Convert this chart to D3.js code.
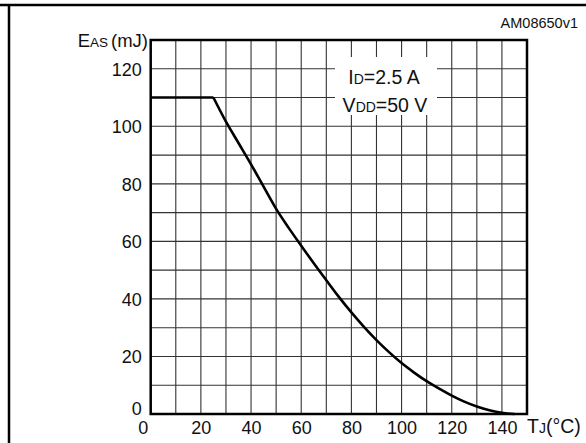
<!DOCTYPE html>
<html><head><meta charset="utf-8">
<script src="https://cdn.jsdelivr.net/npm/d3@7/dist/d3.min.js"></script>
<style>body{margin:0;background:#fff}svg{display:block;font-family:"Liberation Sans",Arial,Helvetica,sans-serif}</style>
</head><body>
<svg id="c" width="586" height="443"></svg>
<script>
// Data
const tempC = [0, 25, 30, 35, 40, 45, 50, 55, 60, 65, 70, 75, 80, 85, 90, 95, 100, 105, 110, 115, 120, 125, 130, 135, 140, 145];
const eAS   = [110, 110, 101.6, 94.2, 86.8, 79, 71.3, 64.7, 58.5, 52.4, 46.5, 40.7, 35.3, 30.3, 25.7, 21.5, 17.7, 14.4, 11.4, 8.8, 6.4, 4.3, 2.6, 1.3, 0.4, 0];
const xTickLabels = [0, 20, 40, 60, 80, 100, 120, 140];
const yTickLabels = [0, 20, 40, 60, 80, 100, 120];
const xGrid = d3.range(0, 151, 10);
const yGrid = d3.range(0, 131, 10);

const svg = d3.select("#c");
const L = 150.7, R = 527, T = 40, B = 414;
const x = d3.scaleLinear().domain([0, 150]).range([L, R]);
const y = d3.scaleLinear().domain([0, 130]).range([B, T]);

// outer frame
svg.append("line").attr("x1", 0).attr("x2", 586).attr("y1", 5).attr("y2", 5).attr("stroke", "#000").attr("stroke-width", 2.5);
svg.append("line").attr("x1", 9).attr("x2", 9).attr("y1", 5).attr("y2", 443).attr("stroke", "#000").attr("stroke-width", 2.5);

// grid
const g = svg.append("g");
g.selectAll("line.v").data(xGrid).join("line").attr("class", "v")
  .attr("x1", d => x(d)).attr("x2", d => x(d)).attr("y1", T).attr("y2", B)
  .attr("stroke", "#333").attr("stroke-width", 1.1);
g.selectAll("line.h").data(yGrid).join("line").attr("class", "h")
  .attr("x1", L).attr("x2", R).attr("y1", d => y(d)).attr("y2", d => y(d))
  .attr("stroke", "#333").attr("stroke-width", 1.1);

// legend box
svg.append("rect").attr("x", 335).attr("y", 57).attr("width", 102).attr("height", 58).attr("fill", "#fff");
const leg = svg.append("g").attr("font-size", 19.5).attr("fill", "#111").attr("text-anchor", "middle");
const t1 = leg.append("text").attr("x", 384).attr("y", 84);
t1.append("tspan").text("I");
t1.append("tspan").attr("font-size", 14).text("D");
t1.append("tspan").text("=2.5 A");
const t2 = leg.append("text").attr("x", 385).attr("y", 112);
t2.append("tspan").text("V");
t2.append("tspan").attr("font-size", 14).text("DD");
t2.append("tspan").text("=50 V");

// plot border
svg.append("rect").attr("x", L).attr("y", T).attr("width", R - L).attr("height", B - T)
  .attr("fill", "none").attr("stroke", "#000").attr("stroke-width", 2.5);

// curve: flat part linear, decaying part smooth
const pts = tempC.map((t, i) => [t, eAS[i]]);
const flat = d3.line().x(d => x(d[0])).y(d => y(d[1]));
const smooth = d3.line().x(d => x(d[0])).y(d => y(d[1])).curve(d3.curveMonotoneX);
const curveG = svg.append("g").attr("fill", "none").attr("stroke", "#000").attr("stroke-width", 2.6).attr("stroke-linejoin", "round");
curveG.append("path").attr("d", flat(pts.slice(0, 2)));
curveG.append("path").attr("d", smooth(pts.slice(1)));

// axes (labels only, via d3 axes)
const yAxis = d3.axisLeft(y).tickValues(yTickLabels).tickSize(0).tickPadding(9);
const ya = svg.append("g").attr("transform", `translate(${L},0)`).call(yAxis);
ya.select(".domain").remove();
ya.selectAll("text").attr("font-size", 18).attr("fill", "#111").attr("font-family", null)
  .attr("dy", d => d === 0 ? "0em" : "0.35em");

const xAxis = d3.axisBottom(x).tickValues(xTickLabels).tickSize(0).tickPadding(7);
const xa = svg.append("g").attr("transform", `translate(0,${B})`).call(xAxis);
xa.select(".domain").remove();
xa.selectAll("text").attr("font-size", 18).attr("fill", "#111").attr("font-family", null)
  .attr("dx", d => d === 0 ? "-8" : "0");

// axis titles
const yt = svg.append("text").attr("x", 148).attr("y", 47).attr("text-anchor", "end").attr("font-size", 18.5).attr("fill", "#111");
yt.append("tspan").text("E");
yt.append("tspan").attr("font-size", 13.5).text("AS");
yt.append("tspan").attr("dx", 3).text("(mJ)");

const xt = svg.append("text").attr("x", 527).attr("y", 433).attr("font-size", 19.5).attr("fill", "#111");
xt.append("tspan").text("T");
xt.append("tspan").attr("font-size", 14).text("J");
xt.append("tspan").text("(°C)");

svg.append("text").attr("x", 578).attr("y", 28).attr("text-anchor", "end").attr("font-size", 14.5).attr("fill", "#111").text("AM08650v1");
</script>
</body></html>
